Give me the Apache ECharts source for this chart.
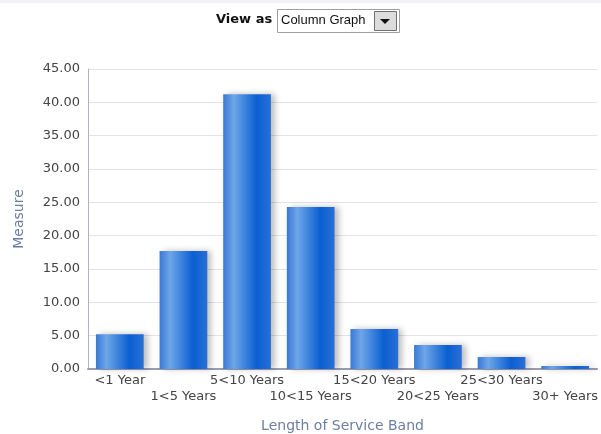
<!DOCTYPE html>
<html>
<head>
<meta charset="utf-8">
<script src="https://cdn.jsdelivr.net/npm/echarts@6/dist/echarts.min.js"></script>
<style>
  html, body { margin: 0; padding: 0; background: #fff; }
  #chart { width: 601px; height: 434px; }
</style>
</head>
<body>
<div id="chart"></div>
<script>
const bands = ['<1 Year', '1<5 Years', '5<10 Years', '10<15 Years', '15<20 Years', '20<25 Years', '25<30 Years', '30+ Years']
const measure = [5.2, 17.7, 41.2, 24.3, 6.0, 3.6, 1.8, 0.45]

const chart = echarts.init(document.getElementById('chart'))

const barColor = {
  type: 'linear', x: 0, y: 0, x2: 1, y2: 0,
  colorStops: [
    { offset: 0, color: '#3a78d4' },
    { offset: 0.22, color: '#6ea6e8' },
    { offset: 0.7, color: '#0a5fd2' },
    { offset: 1, color: '#2a6fd6' }
  ]
}

const labelFont = 'DejaVu Sans'

const option = {
  animation: false,
  graphic: [
    {
      type: 'rect', left: 0, top: 0,
      shape: { width: 601, height: 3 },
      style: { fill: '#f1f2f6' }
    },
    {
      type: 'text', left: 216, top: 13,
      style: { text: 'View as', font: 'bold 13px "DejaVu Sans", sans-serif', fill: '#111' }
    },
    {
      type: 'rect', left: 277, top: 9,
      shape: { width: 122, height: 23 },
      style: { fill: '#fff', stroke: '#a0a0a0', lineWidth: 1 }
    },
    {
      type: 'text', left: 281, top: 14,
      style: { text: 'Column Graph', font: '13px "Liberation Sans", Arial, sans-serif', fill: '#111' }
    },
    {
      type: 'rect', left: 374, top: 11,
      shape: { width: 22, height: 19 },
      style: { fill: '#dcdcdc', stroke: '#707070', lineWidth: 1 }
    },
    {
      type: 'polygon',
      shape: { points: [[380, 19], [390, 19], [385, 24]] },
      style: { fill: '#111' }
    }
  ],
  grid: { left: 88, right: 4, top: 69, bottom: 65, outerBoundsMode: 'none' },
  xAxis: {
    type: 'category',
    data: bands,
    name: 'Length of Service Band',
    nameLocation: 'middle',
    nameGap: 50,
    nameTextStyle: { color: '#6b7ea3', fontSize: 14, fontFamily: labelFont },
    axisLine: { lineStyle: { color: '#9a9cb0', width: 2 } },
    axisTick: { show: false },
    axisLabel: {
      interval: 0,
      color: '#444',
      fontSize: 13,
      fontFamily: labelFont,
      margin: 4,
      formatter: (v, i) => (i % 2 === 1 ? '\n' + v : v),
      lineHeight: 16
    }
  },
  yAxis: {
    type: 'value',
    min: 0,
    max: 45,
    interval: 5,
    name: 'Measure',
    nameLocation: 'middle',
    nameGap: 62,
    nameTextStyle: { color: '#6b7ea3', fontSize: 14, fontFamily: labelFont },
    axisLine: { show: true, lineStyle: { color: '#b0b2c4' } },
    axisTick: { show: false },
    axisLabel: {
      color: '#444',
      fontSize: 13,
      fontFamily: labelFont,
      margin: 8,
      formatter: v => v.toFixed(2)
    },
    splitLine: { lineStyle: { color: '#e2e2ea' } }
  },
  series: [
    {
      type: 'bar',
      data: measure,
      barCategoryGap: '25%',
      itemStyle: {
        color: barColor,
        shadowColor: 'rgba(0,0,0,0.25)',
        shadowBlur: 6,
        shadowOffsetX: 4,
        shadowOffsetY: 0
      }
    }
  ]
}

chart.setOption(option)
</script>
</body>
</html>
